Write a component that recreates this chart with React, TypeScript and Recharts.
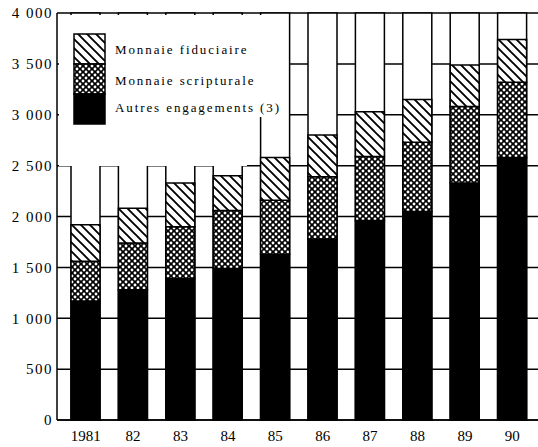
import { Bar, BarChart, CartesianGrid, Legend, XAxis, YAxis } from "recharts";

// Masse monétaire : contreparties, 1981-1990
const annees = ["1981", "82", "83", "84", "85", "86", "87", "88", "89", "90"];
const autres = [1170, 1280, 1390, 1490, 1630, 1780, 1960, 2050, 2330, 2580];
const scripturale = [390, 460, 510, 570, 530, 610, 630, 680, 750, 740];
const fiduciaire = [360, 340, 430, 340, 420, 410, 440, 420, 410, 420];
const yTicks = [0, 500, 1000, 1500, 2000, 2500, 3000, 3500, 4000];

const data = annees.map((annee, i) => ({
  annee,
  autres: autres[i],
  scripturale: scripturale[i],
  fiduciaire: fiduciaire[i],
}));

const SERIF = "'Liberation Serif', 'DejaVu Serif', serif";

const fmtMilliers = (v: number) =>
  v >= 1000 ? `${Math.floor(v / 1000)} ${String(v % 1000).padStart(3, "0")}` : String(v);

// ordre de la légende : du haut de la pile vers le bas
const legende = [
  { key: "fiduciaire", label: "Monnaie fiduciaire", fill: "url(#hachures)" },
  { key: "scripturale", label: "Monnaie scripturale", fill: "url(#quadrillage)" },
  { key: "autres", label: "Autres engagements (3)", fill: "#000" },
];

function LegendeEncadree() {
  return (
    <svg width={205} height={151} style={{ overflow: "visible", display: "block" }}>
      <polygon points="0,0 205,0 205,102 188,102 188,151 0,151" fill="#fff" />
      {legende.map((it, i) => (
        <g key={it.key}>
          <rect
            x={15}
            y={19 + i * 30}
            width={31}
            height={30}
            fill={it.fill}
            stroke="#000"
            strokeWidth={1.5}
          />
          <text
            x={56}
            y={[39, 70, 97][i]}
            fontFamily={SERIF}
            fontSize={13}
            letterSpacing={1.9}
            fill="#000"
          >
            {it.label}
          </text>
        </g>
      ))}
    </svg>
  );
}

export default function App() {
  return (
    <div
      style={{
        position: "absolute",
        left: 0,
        top: 0,
        width: 538,
        height: 447,
        overflow: "hidden",
        background: "#fff",
      }}
    >
      <BarChart
        width={538}
        height={447}
        data={data}
        margin={{ top: 13, right: 0, left: 0, bottom: 0 }}
        barCategoryGap={9}
      >
        <defs>
          <pattern id="hachures" patternUnits="userSpaceOnUse" width="9" height="9">
            <rect width="9" height="9" fill="#fff" />
            <path d="M-2,7 l4,4 M0,0 l9,9 M7,-2 l4,4" stroke="#000" strokeWidth="1.9" />
          </pattern>
          <pattern id="quadrillage" patternUnits="userSpaceOnUse" width="6" height="6">
            <rect width="6" height="6" fill="#000" />
            <circle cx="0" cy="0" r="1.45" fill="#fff" />
            <circle cx="6" cy="0" r="1.45" fill="#fff" />
            <circle cx="0" cy="6" r="1.45" fill="#fff" />
            <circle cx="6" cy="6" r="1.45" fill="#fff" />
            <circle cx="3" cy="3" r="1.45" fill="#fff" />
          </pattern>
        </defs>
        <CartesianGrid vertical={false} stroke="#000" strokeWidth={1.5} />
        <XAxis
          dataKey="annee"
          padding={{ left: 5, right: 2 }}
          height={27}
          interval={0}
          tickLine={false}
          tickSize={0}
          tickMargin={10}
          axisLine={{ stroke: "#000", strokeWidth: 1.5 }}
          tick={{ fill: "#000", fontSize: 15, fontFamily: SERIF }}
        />
        <YAxis
          domain={[0, 4000]}
          ticks={yTicks}
          interval={0}
          width={57}
          tickLine={false}
          tickSize={0}
          tickMargin={4}
          axisLine={{ stroke: "#000", strokeWidth: 1.5 }}
          tickFormatter={fmtMilliers}
          tick={{ fill: "#000", fontSize: 15, fontFamily: SERIF, letterSpacing: 1.5 }}
        />
        <Legend
          layout="vertical"
          align="center"
          verticalAlign="middle"
          wrapperStyle={{ left: 58.5, top: 14.5, width: 205, height: 151, margin: 0, padding: 0 }}
          content={LegendeEncadree}
        />
        <Bar
          dataKey="autres"
          name="Autres engagements (3)"
          stackId="m"
          fill="#000"
          stroke="#000"
          strokeWidth={1.5}
          background={{ fill: "#fff", stroke: "#000", strokeWidth: 1.5 }}
          isAnimationActive={false}
        />
        <Bar
          dataKey="scripturale"
          name="Monnaie scripturale"
          stackId="m"
          fill="url(#quadrillage)"
          stroke="#000"
          strokeWidth={1.5}
          isAnimationActive={false}
        />
        <Bar
          dataKey="fiduciaire"
          name="Monnaie fiduciaire"
          stackId="m"
          fill="url(#hachures)"
          stroke="#000"
          strokeWidth={1.5}
          isAnimationActive={false}
        />
      </BarChart>
    </div>
  );
}
